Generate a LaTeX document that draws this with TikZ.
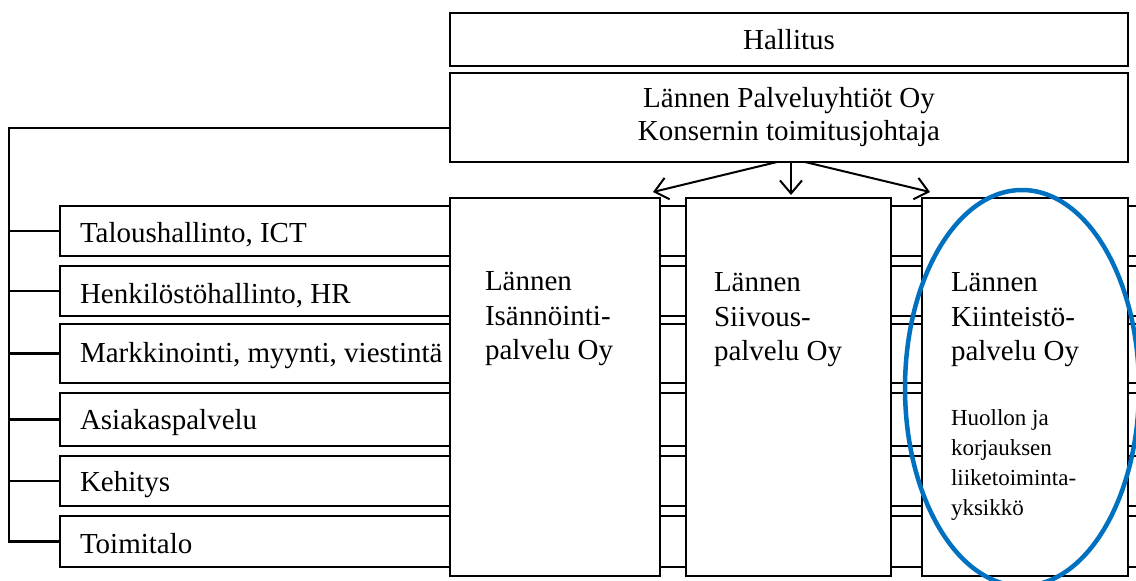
\documentclass[tikz,border=0pt]{standalone}
\usepackage{fontspec}
\setmainfont{Liberation Serif}
\usetikzlibrary{arrows.meta}
\definecolor{hlblue}{RGB}{0,112,192}
\begin{document}
\begin{tikzpicture}[x=1pt,y=-1pt,
  frame/.style={draw, line width=2.6pt, fill=white, inner sep=0pt, outer sep=0pt,
    anchor=north west, align=center, font=\fontsize{29}{33}\selectfont},
  band/.style={draw, line width=1.3pt, inner sep=0pt, outer sep=0pt,
    anchor=north west, minimum width=1080pt},
  tree/.style={line width=2.4pt},
  link/.style={line width=2pt, -{Straight Barb[length=13pt,width=22pt,line width=2pt]}},
  lbl/.style={inner sep=0pt, outer sep=0pt, anchor=base west, font=\fontsize{29}{34}\selectfont},
  body/.style={inner sep=0pt, outer sep=0pt, anchor=north west, align=left,
    font=\fontsize{29}{34.5}\selectfont},
  note/.style={inner sep=0pt, outer sep=0pt, anchor=north west, align=left,
    font=\fontsize{23}{30}\selectfont}]
\clip (0,0) rectangle (1136,581);
\fill[white] (0,0) rectangle (1136,581);

% board and group management
\node[frame, minimum width=678pt, minimum height=53pt] (board) at (450,13) {Hallitus};
\node[frame, minimum width=678pt, minimum height=89pt] (parent) at (450,73)
  {Lännen Palveluyhtiöt Oy\\Konsernin toimitusjohtaja};

% shared service bands
\node[band, minimum height=50pt] (band1) at (60,206) {};
\node[band, minimum height=50pt] (band2) at (60,266) {};
\node[band, minimum height=59pt] (band3) at (60,324) {};
\node[band, minimum height=53pt] (band4) at (60,393) {};
\node[band, minimum height=50pt] (band5) at (60,456) {};
\node[band, minimum height=51pt] (band6) at (60,516) {};

\node[lbl] (t1) at (80,242) {Taloushallinto, ICT};
\node[lbl] (t2) at (80,303) {Henkilöstöhallinto, HR};
\node[lbl] (t3) at (80,362) {Markkinointi, myynti, viestintä};
\node[lbl] (t4) at (80,429) {Asiakaspalvelu};
\node[lbl] (t5) at (80,491) {Kehitys};
\node[lbl] (t6) at (80,553) {Toimitalo};

% tree from management to the service bands
\coordinate (trunk) at (9,128);
\draw[tree] (parent.west |- trunk) -- (trunk) -- (trunk |- band6.west) -- (band6.west);
\foreach \i in {1,...,5} \draw[tree] (trunk |- band\i.west) -- (band\i.west);

% subsidiaries
\node[frame, minimum width=210pt, minimum height=378pt] (co1) at (450,198) {};
\node[frame, minimum width=205pt, minimum height=378pt] (co2) at (686,198) {};
\node[frame, minimum width=206pt, minimum height=378pt] (co3) at (922,198) {};

\node[body] (n1) at (485,272) {Lännen\\Isännöinti-\\palvelu Oy};
\node[body] (n2) at (714,273) {Lännen\\Siivous-\\palvelu Oy};
\node[body] (n3) at (951,273) {Lännen\\Kiinteistö-\\palvelu Oy};
\node[note] (n4) at (951,410) {Huollon ja\\korjauksen\\liiketoiminta-\\yksikkö};

% ownership arrows
\draw[link] ([xshift=-12pt]parent.south) -- ([xshift=-7pt,yshift=6pt]co1.north east);
\draw[link] ([xshift=2pt]parent.south) -- ([xshift=2.5pt,yshift=3pt]co2.north);
\draw[link] ([xshift=16pt]parent.south) -- ([xshift=8pt,yshift=6pt]co3.north west);

% highlighted unit
\draw[hlblue, line width=4.5pt] (1022,388) ellipse [x radius=117pt, y radius=198pt];
\end{tikzpicture}
\end{document}
